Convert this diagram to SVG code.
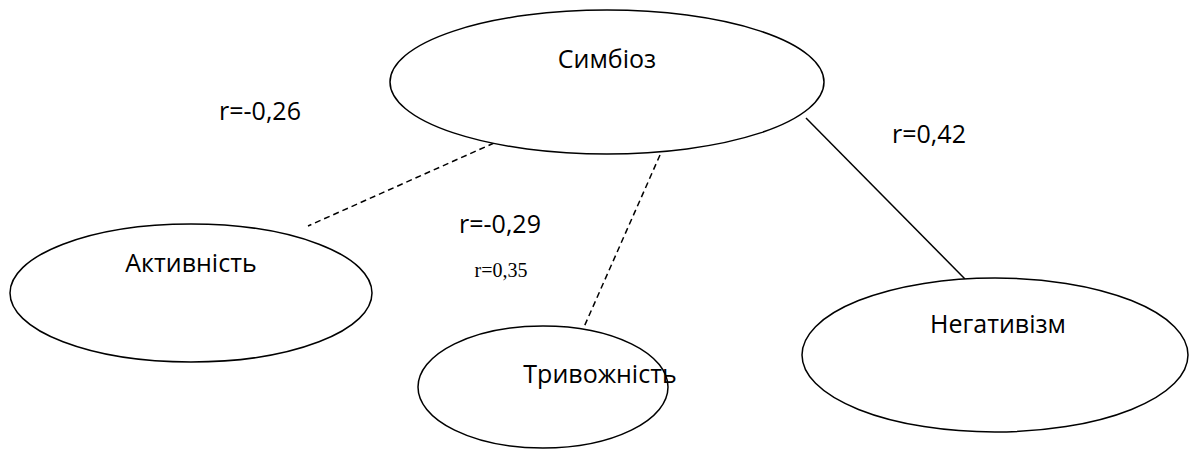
<svg xmlns="http://www.w3.org/2000/svg" width="1198" height="452" viewBox="0 0 1198 452">
  <style>
    .node { fill: #ffffff; stroke: #000000; stroke-width: 1.5; }
    .label { font-family: "Open Sans", "Liberation Sans", sans-serif; font-size: 25px; fill: #000000; text-anchor: middle; }
    .coef { font-family: "Open Sans", "Liberation Sans", sans-serif; font-size: 25px; fill: #000000; text-anchor: middle; }
    .coef-small { font-family: "Liberation Serif", serif; font-size: 20px; fill: #000000; text-anchor: middle; }
    .link { stroke: #000000; stroke-width: 1.5; fill: none; }
    .dashed { stroke-dasharray: 6 4; }
  </style>
  <rect width="1198" height="452" fill="#ffffff"/>

  <!-- connectors -->
  <g id="connectors">
    <line class="link dashed" x1="494" y1="143" x2="308" y2="226"/>
    <line class="link dashed" x1="660" y1="155" x2="584" y2="327"/>
    <line class="link" x1="806" y1="118" x2="965" y2="279"/>
  </g>

  <g id="node-symbioz">
    <ellipse class="node" cx="607" cy="82" rx="217" ry="72"/>
    <text class="label" x="607" y="68">Симбіоз</text>
  </g>

  <g id="node-aktyvnist">
    <ellipse class="node" cx="191" cy="293" rx="181" ry="69"/>
    <text class="label" x="191" y="272">Активність</text>
  </g>

  <g id="node-tryvozhnist">
    <ellipse class="node" cx="543" cy="387" rx="125" ry="61"/>
    <text class="label" x="600" y="383">Тривожність</text>
  </g>

  <g id="node-negatyvizm">
    <ellipse class="node" cx="995" cy="355" rx="193" ry="77"/>
    <text class="label" x="998" y="333">Негативізм</text>
  </g>

  <!-- correlation coefficients -->
  <g id="coefficients">
    <text class="coef" x="260" y="120">r=-0,26</text>
    <text class="coef" x="929" y="143">r=0,42</text>
    <text class="coef" x="500" y="233">r=-0,29</text>
    <text class="coef-small" x="501" y="277">r=0,35</text>
  </g>
</svg>
